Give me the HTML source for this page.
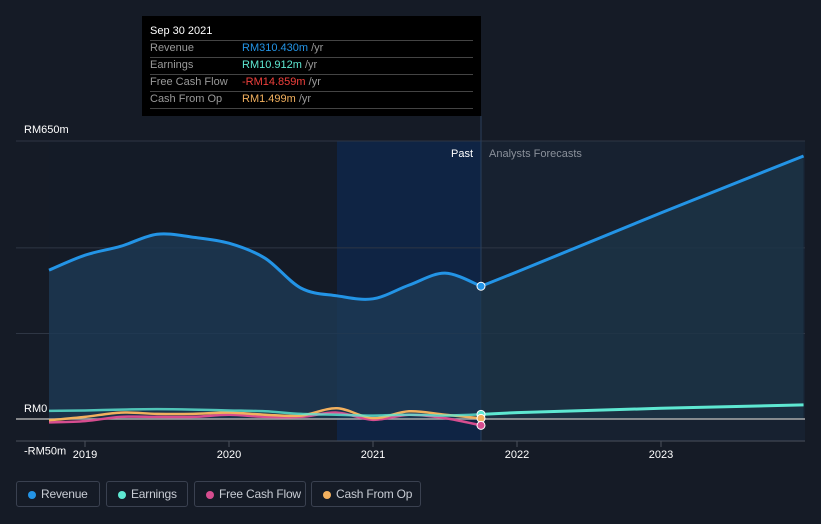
<!DOCTYPE html>
<html><head><meta charset="utf-8"><style>
body{margin:0;background:#151b26;width:821px;height:524px;overflow:hidden;font-family:"Liberation Sans",sans-serif;}
.lg{position:absolute;top:481px;height:26px;border:1px solid #3a4150;border-radius:3px;color:#c8ccd4;font-size:12px;line-height:24px;box-sizing:border-box;padding-left:24px;white-space:nowrap;letter-spacing:-0.2px}
.lg i{position:absolute;left:11px;top:9px;width:8px;height:8px;border-radius:50%}
</style></head><body>
<svg id="c" width="821" height="524" style="position:absolute;left:0;top:0"></svg>
<div style="position:absolute;left:142px;top:16px;width:339px;height:100px;background:#000;font-size:11px;">
<div style="position:absolute;left:8px;top:9px;color:#fff">Sep 30 2021</div>
<div style="position:absolute;left:8px;top:24px;width:323px;border-top:1px solid #444"></div>
<div style="position:absolute;left:8px;top:26px;color:#999">Revenue</div><div style="position:absolute;left:100px;top:26px;color:#2394e6">RM310.430m <span style="color:#999">/yr</span></div>
<div style="position:absolute;left:8px;top:41px;width:323px;border-top:1px solid #444"></div>
<div style="position:absolute;left:8px;top:43px;color:#999">Earnings</div><div style="position:absolute;left:100px;top:43px;color:#5ee8d2">RM10.912m <span style="color:#999">/yr</span></div>
<div style="position:absolute;left:8px;top:58px;width:323px;border-top:1px solid #444"></div>
<div style="position:absolute;left:8px;top:60px;color:#999">Free Cash Flow</div><div style="position:absolute;left:100px;top:60px;color:#f0403c">-RM14.859m <span style="color:#999">/yr</span></div>
<div style="position:absolute;left:8px;top:75px;width:323px;border-top:1px solid #444"></div>
<div style="position:absolute;left:8px;top:77px;color:#999">Cash From Op</div><div style="position:absolute;left:100px;top:77px;color:#f2b05e">RM1.499m <span style="color:#999">/yr</span></div>
<div style="position:absolute;left:8px;top:92px;width:323px;border-top:1px solid #444"></div>
</div>
<div class="lg" style="left:16px;width:84px"><i style="background:#2394e6"></i>Revenue</div>
<div class="lg" style="left:106px;width:82px"><i style="background:#5ee8d2"></i>Earnings</div>
<div class="lg" style="left:194px;width:112px"><i style="background:#d64d8f"></i>Free Cash Flow</div>
<div class="lg" style="left:311px;width:110px"><i style="background:#f2b05e"></i>Cash From Op</div>
<script>
const pastT=[2018.75,2019,2019.25,2019.5,2019.75,2020,2020.25,2020.5,2020.75,2021,2021.25,2021.5,2021.75];
const revenue=[348,383,404,432,425,411,376,306,288,281,313,341,310.4];
const earnings=[19,20,22,23,22,20,18,12,10,8,10,8,10.9];
const fcf=[-8,-5,5,5,5,10,5,5,15,-2,10,2,-14.9];
const cfo=[-3,5,15,12,12,15,10,8,25,2,18,10,1.5];
const fcT=[2021.75,2022,2023,2023.99];
const revFc=[310.4,344,482,615];
const earnFc=[10.9,15,25,33];
const yTicks=[["RM650m",650],["RM0",0],["-RM50m",-50]];
const xTicks=[2019,2020,2021,2022,2023];
const X=t=>85+(t-2019)*144, Y=v=>419-v*0.4277;
const s=document.getElementById('c'),NS='http://www.w3.org/2000/svg';
function el(tag,a,name){const e=document.createElementNS(NS,tag);for(const k in a)e.setAttribute(k,a[k]);


s.appendChild(e);return e;}
function path(ts,vs){const p=ts.map((t,i)=>[X(t),Y(vs[i])]);let d='M'+p[0][0]+','+p[0][1];
for(let i=0;i<p.length-1;i++){const p0=p[Math.max(0,i-1)],p1=p[i],p2=p[i+1],p3=p[Math.min(p.length-1,i+2)];
const c1=[p1[0]+(p2[0]-p0[0])/6,p1[1]+(p2[1]-p0[1])/6],c2=[p2[0]-(p3[0]-p1[0])/6,p2[1]-(p3[1]-p1[1])/6];
d+=` C${c1[0]},${c1[1]} ${c2[0]},${c2[1]} ${p2[0]},${p2[1]}`;}return d;}
function lin(ts,vs){return ts.map((t,i)=>(i?'L':'M')+X(t)+','+Y(vs[i])).join(' ');}
el('rect',{x:49,y:141,width:432,height:300,fill:'#141b27'},'past-bg');
el('rect',{x:X(2020.75),y:141,width:X(2021.75)-X(2020.75),height:300,fill:'#0f2444'},'past-highlight');
el('rect',{x:481,y:141,width:324,height:300,fill:'#172130'},'forecast-bg');
[650,400,200].forEach(v=>el('line',{x1:16,x2:805,y1:Y(v),y2:Y(v),stroke:'#2e3644'},'gridline'));
el('line',{x1:481,x2:481,y1:116,y2:441,stroke:'#2a3f5c'},'past-divider');
el('path',{d:path(pastT,revenue)+` L${X(2021.75)},${Y(0)} L${X(2018.75)},${Y(0)}Z`,fill:'#1d3a55',opacity:.8},'revenue-area');
el('path',{d:lin(fcT,revFc)+` L${X(2023.99)},${Y(0)} L${X(2021.75)},${Y(0)}Z`,fill:'#1d3447',opacity:.8},'revenue-forecast-area');
el('line',{x1:16,x2:805,y1:Y(0),y2:Y(0),stroke:'#aaa','stroke-width':1.5},'zero-line');
el('line',{x1:16,x2:805,y1:441,y2:441,stroke:'#4a505c'},'x-axis');
el('path',{d:path(pastT,fcf),fill:'none',stroke:'#d64d8f','stroke-width':2.5},'fcf-line');
el('path',{d:path(pastT,cfo),fill:'none',stroke:'#f2b05e','stroke-width':2.5},'cfo-line');
el('path',{d:path(pastT,earnings),fill:'none',stroke:'#5ee8d2','stroke-width':2.5,opacity:.8},'earnings-line');
el('path',{d:lin(fcT,earnFc),fill:'none',stroke:'#5ee8d2','stroke-width':3},'earnings-forecast-line');
el('path',{d:path(pastT,revenue),fill:'none',stroke:'#2394e6','stroke-width':3},'revenue-line');
el('path',{d:lin(fcT,revFc),fill:'none',stroke:'#2394e6','stroke-width':3},'revenue-forecast-line');
[[earnings,'#5ee8d2'],[cfo,'#f2b05e'],[fcf,'#d64d8f'],[revenue,'#2394e6']].forEach(([a,c])=>el('circle',{cx:481,cy:Y(a[a.length-1]),r:4,fill:c,stroke:'#fff','stroke-width':1},'point'));
yTicks.forEach(([l,v])=>{const t=el('text',{x:24,y:Y(v)+(v==650?-8:(v==0?-7:14)),fill:'#fff','font-size':11},'y-tick');t.textContent=l;});
xTicks.forEach(v=>{el('line',{x1:X(v),x2:X(v),y1:441,y2:447,stroke:'#4a505c'},'x-tick-mark');const t=el('text',{x:X(v),y:458,fill:'#fff','font-size':11,'text-anchor':'middle'},'x-tick');t.textContent=v;});
let t=el('text',{x:473,y:157,fill:'#fff','font-size':11,'text-anchor':'end'},'past-label');t.textContent='Past';
t=el('text',{x:489,y:157,fill:'#8a909a','font-size':11},'forecast-label');t.textContent='Analysts Forecasts';
</script>
</body></html>
